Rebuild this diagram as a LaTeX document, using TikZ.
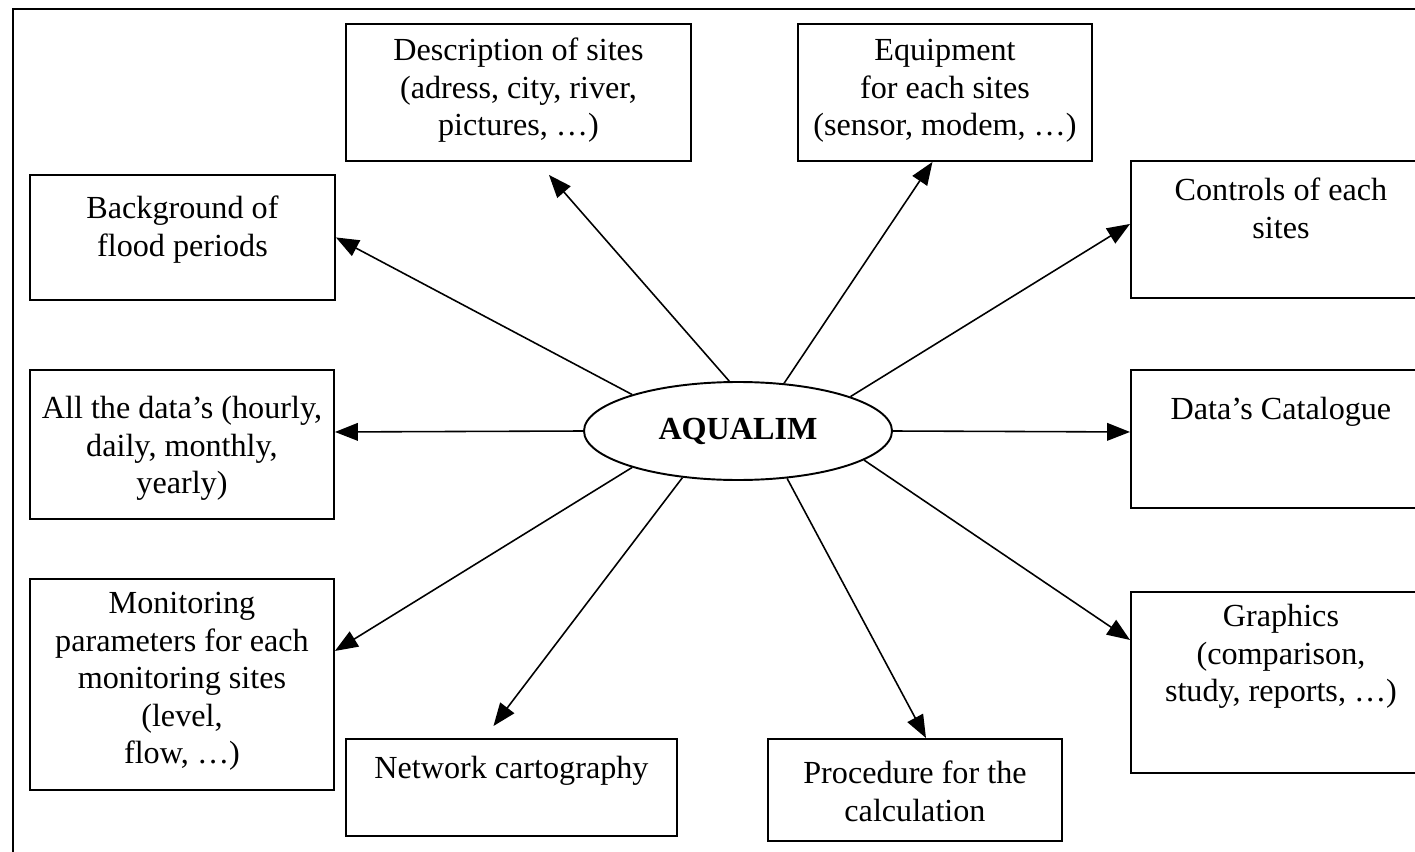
\documentclass[tikz,border=0pt]{standalone}
\usepackage{fontspec}
\setmainfont{Liberation Serif}
\usepackage{tikz}
\usetikzlibrary{shapes.geometric,arrows.meta}

\begin{document}
\begin{tikzpicture}[main/.style = {draw, ellipse, line width=1.1pt, minimum width=6.16cm, minimum height=1.96cm, inner sep=0pt, font=\fontsize{18.3}{21.3}\selectfont\bfseries},
  box/.style={draw, line width=1.1pt, inner sep=0pt, anchor=north west, font=\fontsize{18.3}{21.3}\selectfont},
  arr/.style={-{Triangle[length=13pt, width=10pt]}, line width=0.9pt}]
        \useasboundingbox (0,0) rectangle (28.3,-17.04);
        \clip (0,0) rectangle (28.3,-17.04);
        \draw[line width=1.1pt] (28.3,-0.18) -- (0.26,-0.18) -- (0.26,-17.04);
        \node[main] (0) at (14.76,-8.62) {AQUALIM};
        \node[box] (1) at (0.58,-3.48) {\parbox[c][2.50cm][t]{6.10cm}{\centering\rule{0pt}{0.88cm}Background of\\flood periods}};
        \node[box] (2) at (6.90,-0.46) {\parbox[c][2.74cm][t]{6.90cm}{\centering\rule{0pt}{0.74cm}Description of sites\\(adress, city, river,\\pictures, …)}};
        \node[box] (3) at (15.94,-0.46) {\parbox[c][2.74cm][t]{5.88cm}{\centering\rule{0pt}{0.74cm}Equipment\\for each sites\\(sensor, modem, …)}};
        \node[box] (4) at (22.60,-3.20) {\parbox[c][2.74cm][t]{6.00cm}{\centering\rule{0pt}{0.80cm}Controls of each\\sites}};
        \node[box] (5) at (22.60,-7.38) {\parbox[c][2.76cm][t]{6.00cm}{\centering\rule{0pt}{1.00cm}Data’s Catalogue}};
        \node[box] (6) at (0.58,-7.38) {\parbox[c][2.98cm][t]{6.08cm}{\centering\rule{0pt}{0.98cm}All the data’s (hourly,\\daily, monthly,\\yearly)}};
        \node[box] (7) at (0.58,-11.56) {\parbox[c][4.22cm][t]{6.08cm}{\centering\rule{0pt}{0.70cm}Monitoring\\parameters for each\\monitoring sites\\(level,\\flow, …)}};
        \node[box] (8) at (6.90,-14.76) {\parbox[c][1.94cm][t]{6.62cm}{\centering\rule{0pt}{0.80cm}Network cartography}};
        \node[box] (9) at (15.34,-14.76) {\parbox[c][2.04cm][t]{5.88cm}{\centering\rule{0pt}{0.90cm}Procedure for the\\calculation}};
        \node[box] (10) at (22.60,-11.82) {\parbox[c][3.62cm][t]{6.00cm}{\centering\rule{0pt}{0.70cm}Graphics\\(comparison,\\study, reports, …)}};
        \draw[arr] (0.161) -- (1.east);
        \draw[arr] (0.100) -- ([xshift=0.61cm, yshift=-0.26cm]2.south);
        \draw[arr] (0.46) -- ([xshift=-0.25cm]3.south);
        \draw[arr] (0.17) -- ([yshift=0.11cm]4.west);
        \draw[arr] (0.east) -- ([yshift=0.14cm]5.west);
        \draw[arr] (0.west) -- ([yshift=0.25cm]6.east);
        \draw[arr] (0.199) -- ([yshift=0.67cm]7.east);
        \draw[arr] (0.220) -- ([xshift=-0.36cm, yshift=0.24cm]8.north);
        \draw[arr] (0.316) -- ([xshift=0.22cm]9.north);
        \draw[arr] (0.347) -- ([yshift=0.85cm]10.west);
\end{tikzpicture}
\end{document}
